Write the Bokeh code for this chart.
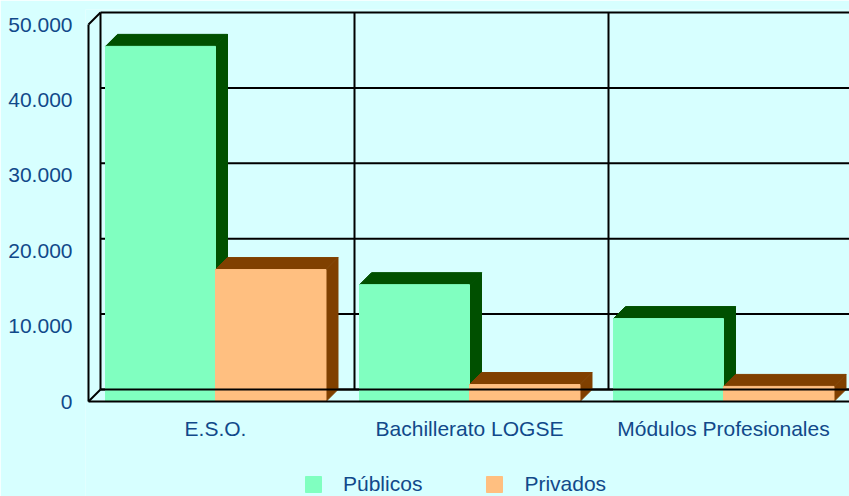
from bokeh.plotting import figure
from bokeh.models import Range1d, FixedTicker, Legend, LegendItem
from bokeh.embed import file_html
from bokeh.resources import INLINE

# ---------------- data ----------------
categories = ["E.S.O.", "Bachillerato LOGSE", "Módulos Profesionales"]
publicos = [47100, 15500, 11000]
privados = [17500, 2250, 2000]
y_ticks = [0, 10000, 20000, 30000, 40000, 50000]
y_tick_labels = ["0", "10.000", "20.000", "30.000", "40.000", "50.000"]
series_names = ["Públicos", "Privados"]

# ---------------- style / geometry ----------------
BG = "#D7FFFF"
TXT = "#11498A"
PUB_FRONT, PUB_DARK = "#80FFC0", "#005000"
PRI_FRONT, PRI_DARK = "#FFBF80", "#804000"
FONT = "Liberation Sans"

W, H = 849, 496
CAT_PX = 254          # pixels per category
DEPTH_PX = 12         # 3-D depth offset
Y_MAX = 50000
FRONT_H_PX = 377      # front height of 0..50000
ZERO_Y = 401          # canvas y of front floor
LEFT_X = 88           # canvas x of front-left edge
TOP_Y = 9             # canvas y of frame top
PAD = 3

px_per_y = FRONT_H_PX / Y_MAX
DY = DEPTH_PX / px_per_y
DX = DEPTH_PX / CAT_PX

x_start = -PAD / CAT_PX
x_end = (W - LEFT_X) / CAT_PX
y_end = (ZERO_Y - TOP_Y) / px_per_y
y_start = -(H - ZERO_Y) / px_per_y

p = figure(width=W, height=H, output_backend="svg", toolbar_location=None,
           x_range=Range1d(x_start, x_end), y_range=Range1d(y_start, y_end),
           min_border_left=LEFT_X - PAD, min_border_right=0,
           min_border_top=TOP_Y, min_border_bottom=0,
           background_fill_color=BG, border_fill_color=BG, outline_line_color=None)
p.xgrid.visible = False
p.ygrid.visible = False

# ---------------- walls & grid ----------------
LINE = "#000000"
gx, gy = [], []
for t in y_ticks:
    gx.append([DX, x_end + 1]); gy.append([t + DY, t + DY])
for k in range(1, len(categories) + 1):
    gx.append([k + DX, k + DX]); gy.append([DY, Y_MAX + DY])
gx.append([DX, DX]); gy.append([DY, Y_MAX + DY])
gx.append([0, 0]); gy.append([0, Y_MAX])
gx.append([0, DX]); gy.append([Y_MAX, Y_MAX + DY])
gx.append([0, DX]); gy.append([0, DY])
p.multi_line(gx, gy, line_color=LINE, line_width=2)

# ---------------- bars ----------------
n = len(categories)
pub_l = [i + 0.067 for i in range(n)]
pub_r = [i + 0.5 for i in range(n)]
pri_l = pub_r
pri_r = [i + 0.935 for i in range(n)]


def draw_box(lefts, rights, vals, front, dark):
    txs, tys, sxs, sys_ = [], [], [], []
    for l, r, v in zip(lefts, rights, vals):
        txs.append([l, l + DX, r + DX, r]); tys.append([v, v + DY, v + DY, v])
        sxs.append([r, r + DX, r + DX, r]); sys_.append([0, DY, v + DY, v])
    p.patches(sxs, sys_, fill_color=dark, line_color=dark, line_width=1)
    p.patches(txs, tys, fill_color=dark, line_color=dark, line_width=1)
    return p.quad(left=lefts, right=rights, bottom=[0] * len(vals), top=vals,
                  fill_color=front, line_color=front, line_width=1)


r_pub = draw_box(pub_l, pub_r, publicos, PUB_FRONT, PUB_DARK)
r_pri = draw_box(pri_l, pri_r, privados, PRI_FRONT, PRI_DARK)

p.multi_line([[0, x_end + 1], [DX, x_end + 1]], [[0, 0], [DY, DY]],
             line_color=LINE, line_width=2)

# ---------------- axes ----------------
p.yaxis.ticker = FixedTicker(ticks=y_ticks)
p.yaxis.major_label_overrides = dict(zip(y_ticks, y_tick_labels))
p.yaxis.axis_line_color = None
p.yaxis.major_tick_line_color = None
p.yaxis.minor_tick_line_color = None
p.yaxis.major_label_standoff = 7
p.yaxis.major_label_text_font = FONT
p.yaxis.major_label_text_font_size = "21px"
p.yaxis.major_label_text_color = TXT

x_ticks = [i + 0.5 for i in range(n)]
p.xaxis.fixed_location = 0
p.xaxis.ticker = FixedTicker(ticks=x_ticks)
p.xaxis.major_label_overrides = dict(zip(x_ticks, categories))
p.xaxis.axis_line_color = None
p.xaxis.major_tick_line_color = None
p.xaxis.minor_tick_line_color = None
p.xaxis.major_label_standoff = 9
p.xaxis.major_label_text_font = FONT
p.xaxis.major_label_text_font_size = "21px"
p.xaxis.major_label_text_color = TXT

# ---------------- legend ----------------
legend = Legend(items=[LegendItem(label=series_names[0], renderers=[r_pub]),
                       LegendItem(label=series_names[1], renderers=[r_pri])],
                orientation="horizontal", location=(303 - (LEFT_X - PAD), 0),
                padding=0, margin=0, spacing=62, glyph_width=20, glyph_height=20,
                label_standoff=20, label_height=20,
                label_text_font=FONT, label_text_font_size="21px",
                label_text_color=TXT, background_fill_alpha=0,
                border_line_color=None)
p.add_layout(legend, "center")

open("out.html", "w").write(file_html(p, INLINE))
